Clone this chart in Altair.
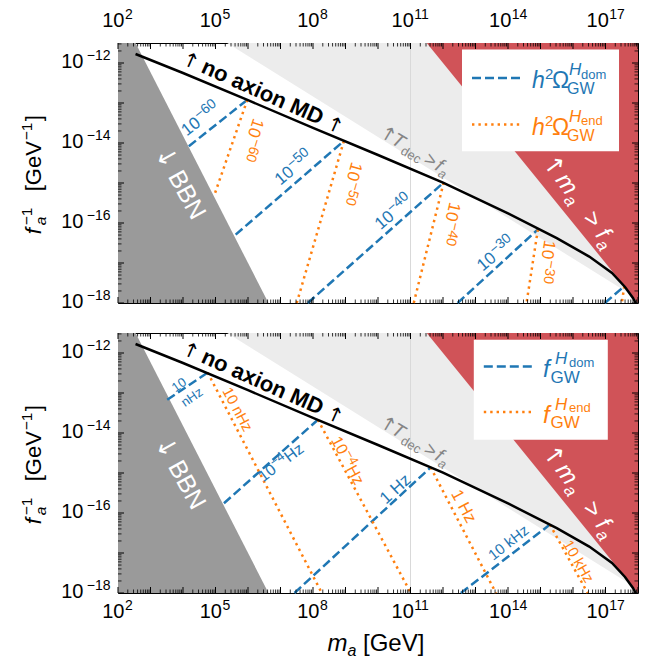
import altair as alt
import pandas as pd

FONT = "Liberation Sans"
AFONT = "DejaVu Sans"
PW, PH = 520, 260
BLUE, ORANGE = "#1f77b4", "#ff7f0e"
RED, DARK, LIGHT, GRIDC = "#d05358", "#9a9a9a", "#ececec", "#d9d9d9"

# ---------------- axes (log10 exponents) ----------------
X_DECADES = list(range(2, 19))
Y_DECADES = list(range(-18, -11))
MINOR_SUBS = [2, 3, 4, 5, 6, 7, 8, 9]
X_LABEL_EXP = [2, 5, 8, 11, 14, 17]
X_LABEL_TXT = ["2", "5", "8", "11", "14", "17"]
Y_LABEL_EXP = [-18, -16, -14, -12]
Y_LABEL_TXT = ["\u221218", "\u221216", "\u221214", "\u221212"]
X_MIN, X_MAX = 2.0, 18.0
Y_MIN, Y_MAX = -18.0, -11.5

# ---------------- shaded regions: log10 m_a , log10 f_a^-1 ----------------
BBN_LOGM = [2.0, 2.54, 6.63]
BBN_LOGF = [-11.5, -11.5, -18.0]
TDEC_LOGM = [5.36, 18.0]
TDEC_LOGF = [-11.5, -17.9]
MAF_LOGM = [11.5, 18.0]
MAF_LOGF = [-11.5, -18.0]
GRID_LOGM = [11.0]

# "no axion MD" boundary
MD_LOGM = [2.54, 4.0, 6.0, 8.0, 10.0, 12.0, 14.0, 15.5, 16.5, 17.2, 17.6, 17.85, 17.93]
MD_LOGF = [-11.775, -12.25, -12.93, -13.62, -14.30, -14.99, -15.76, -16.38, -16.84, -17.25, -17.6, -17.88, -18.0]

# ---------------- top panel: h^2 Omega_GW contours ----------------
OM_DOM_START_LOGM = [4.18, 5.62, 7.84, 12.45, 16.98]
OM_DOM_START_LOGF = [-14.08, -16.29, -18.0, -18.0, -18.0]
OM_KNEE_LOGM = [5.98, 8.95, 12.02, 14.92, 17.58]
OM_KNEE_LOGF = [-12.92, -13.95, -14.99, -16.16, -17.58]
OM_END_STOP_LOGM = [4.97, 7.5, 11.1, 14.57, 17.5]
OM_END_STOP_LOGF = [-15.29, -18.0, -18.0, -18.0, -18.0]

OM_EXP_TXT = ["\u221260", "\u221250", "\u221240", "\u221230"]
OM_DOM_LBL_LOGM = [4.54, 7.40, 10.48, 13.63]
OM_DOM_LBL_LOGF = [-13.41, -14.63, -15.74, -16.78]
OM_DOM_LBL_ANG = [322, 320, 319, 320]
OM_END_LBL_LOGM = [6.11, 9.16, 12.21, 15.17]
OM_END_LBL_LOGF = [-13.91, -15.0, -16.01, -16.96]
OM_END_LBL_ANG = [108, 106, 103, 99]

# ---------------- bottom panel: f_GW contours ----------------
FR_DOM_START_LOGM = [3.515, 5.26, 7.43, 12.55]
FR_DOM_START_LOGF = [-13.17, -15.755, -18.0, -18.0]
FR_KNEE_LOGM = [4.76, 8.15, 11.62, 15.29]
FR_KNEE_LOGF = [-12.49, -13.67, -14.86, -16.29]
FR_END_STOP_LOGM = [8.27, 11.01, 13.63, 16.45]
FR_END_STOP_LOGF = [-18.0, -18.0, -18.0, -18.0]

# annotation anchors (log10 m_a, log10 f_a^-1, angle) at the first arrow
NOAXION_POS = (4.157, -12.095, 24)
BBN_POS = (3.268, -14.46, 61)
TDEC_POS = (10.22, -13.92, 31)
MAF_POS = (15.22, -14.69, 54)

XS = alt.Scale(type="log", domain=[10 ** X_MIN, 10 ** X_MAX], nice=False)
YS = alt.Scale(type="log", domain=[10 ** Y_MIN, 10 ** Y_MAX], nice=False)
ONE = pd.DataFrame({"k": [0]})


def X():
    return alt.X("m:Q", scale=XS, axis=None)


def Y():
    return alt.Y("f:Q", scale=YS, axis=None)


def xy(lm, lf):
    return pd.DataFrame({"m": [10.0 ** v for v in lm], "f": [10.0 ** v for v in lf]})


def area(lm, lf, base, color):
    d = xy(lm, lf)
    d["f2"] = 10.0 ** base
    return alt.Chart(d).mark_area(color=color, opacity=1).encode(X(), Y(), y2="f2:Q")


def segs(m0, f0, m1, f1, color, dash, width):
    rows = []
    for i in range(len(m0)):
        rows.append({"id": i, "o": 0, "m": 10.0 ** m0[i], "f": 10.0 ** f0[i]})
        rows.append({"id": i, "o": 1, "m": 10.0 ** m1[i], "f": 10.0 ** f1[i]})
    return alt.Chart(pd.DataFrame(rows)).mark_line(
        color=color, strokeDash=dash, strokeWidth=width).encode(
        X(), Y(), detail="id:N", order="o:Q")


def _kw(text, size, color, align, baseline, style, weight, angle, dx, dy, font):
    kw = dict(text=text, fontSize=size, color=color, align=align,
              baseline=baseline, font=font)
    if style:
        kw["fontStyle"] = style
    if weight:
        kw["fontWeight"] = weight
    if angle:
        kw["angle"] = angle
    if dx:
        kw["dx"] = dx
    if dy:
        kw["dy"] = dy
    return kw


def dtxt(lm, lf, text, size, color, angle=0, dx=0, dy=0, align="center",
         baseline="middle", style=None, weight=None, font=FONT):
    kw = _kw(text, size, color, align, baseline, style, weight, angle, dx, dy, font)
    return alt.Chart(xy([lm], [lf])).mark_text(**kw).encode(X(), Y())


def ptxt(x, y, text, size, color="black", align="left", baseline="alphabetic",
         style=None, weight=None, angle=0, dx=0, dy=0, font=FONT):
    kw = _kw(text, size, color, align, baseline, style, weight, angle, dx, dy, font)
    return alt.Chart(ONE).mark_text(**kw).encode(x=alt.value(x), y=alt.value(y))


def prule(x, x2, y, y2, color, width, dash=None):
    kw = dict(color=color, strokeWidth=width)
    if dash:
        kw["strokeDash"] = dash
    return alt.Chart(ONE).mark_rule(**kw).encode(
        x=alt.value(x), x2=alt.value(x2), y=alt.value(y), y2=alt.value(y2))


DASH = [9, 4]
DOT = [2.4, 4]
LW = 2.5


def background():
    L = []
    L.append(area(TDEC_LOGM, TDEC_LOGF, Y_MAX, LIGHT))
    L.append(alt.Chart(pd.DataFrame({"m": [10.0 ** v for v in GRID_LOGM]})).mark_rule(
        color=GRIDC, strokeWidth=1).encode(X()))
    L.append(area(MAF_LOGM, MAF_LOGF, Y_MAX, RED))
    L.append(area(BBN_LOGM, BBN_LOGF, Y_MIN, DARK))
    return L


def pieces(pos, items, color):
    lm, lf, a = pos
    out = []
    for t, dx, dy, s, st, wt, fnt, al in items:
        out.append(dtxt(lm, lf, t, s, color, angle=a, dx=dx, dy=dy, align=al,
                        baseline="alphabetic", style=st, weight=wt, font=fnt))
    return out


def foreground_common():
    L = []
    L.append(alt.Chart(xy(MD_LOGM, MD_LOGF)).mark_line(color="black", strokeWidth=2.5).encode(X(), Y()))
    L += pieces(NOAXION_POS, [
        ("\u2191", 0, 0, 20, None, None, AFONT, "center"),
        ("no axion MD", 13, 0, 22, None, "bold", FONT, "left"),
        ("\u2191", 158, 0, 20, None, None, AFONT, "center")], "black")
    L += pieces(BBN_POS, [
        ("\u2193", 0, 0, 25, None, None, AFONT, "center"),
        ("BBN", 17, 0, 25, None, None, FONT, "left")], "white")
    L += pieces(TDEC_POS, [
        ("\u2191", 0, 0, 19, None, None, AFONT, "center"),
        ("T", 6, 0, 19, "italic", None, FONT, "left"),
        ("dec", 19.5, 4, 13, None, None, FONT, "left"),
        (">", 44, 0, 19, None, None, FONT, "left"),
        ("f", 57, 0, 19, "italic", None, FONT, "left"),
        ("a", 63, 4, 13, "italic", None, FONT, "left")], "#858585")
    L += pieces(MAF_POS, [
        ("\u2191", 0, 0, 24, None, None, AFONT, "center"),
        ("m", 12, 0, 24, "italic", None, FONT, "left"),
        ("a", 33, 5, 17, "italic", None, FONT, "left"),
        (">", 59, 0, 24, None, None, FONT, "left"),
        ("f", 80, 0, 24, "italic", None, FONT, "left"),
        ("a", 88, 5, 17, "italic", None, FONT, "left")], "white")
    return L


def ticks(top_labels):
    L = []
    maj_x = pd.DataFrame({"m": [10.0 ** e for e in X_DECADES]})
    min_x = pd.DataFrame({"m": [s * 10.0 ** e for e in X_DECADES[:-1] for s in MINOR_SUBS]})
    maj_y = pd.DataFrame({"f": [10.0 ** e for e in Y_DECADES]})
    min_y = pd.DataFrame({"f": [v for v in (s * 10.0 ** e for e in Y_DECADES for s in MINOR_SUBS)
                                if v <= 10 ** Y_MAX]})
    for d, ln, w in [(maj_x, 6, 1.0), (min_x, 3.5, 0.8)]:
        L.append(alt.Chart(d).mark_rule(color="black", strokeWidth=w).encode(
            X(), y=alt.value(PH), y2=alt.value(PH - ln)))
        L.append(alt.Chart(d).mark_rule(color="black", strokeWidth=w).encode(
            X(), y=alt.value(0), y2=alt.value(ln)))
    for d, ln, w in [(maj_y, 6, 1.0), (min_y, 3.5, 0.8)]:
        L.append(alt.Chart(d).mark_rule(color="black", strokeWidth=w).encode(
            Y(), x=alt.value(0), x2=alt.value(ln)))
        L.append(alt.Chart(d).mark_rule(color="black", strokeWidth=w).encode(
            Y(), x=alt.value(PW), x2=alt.value(PW - ln)))
    # x tick labels
    yb = -22.5 if top_labels else PH + 19.3
    ye = -28.5 if top_labels else PH + 13.3
    for nd, dxx in [(1, 6.5), (2, 3.3)]:
        sel = [i for i, t in enumerate(X_LABEL_TXT) if len(t) == nd]
        d = pd.DataFrame({"m": [10.0 ** X_LABEL_EXP[i] for i in sel],
                          "e": [X_LABEL_TXT[i] for i in sel]})
        L.append(alt.Chart(d).mark_text(text="10", fontSize=20, align="right", baseline="middle",
                                        dx=dxx, font=FONT, color="black").encode(X(), y=alt.value(yb)))
        L.append(alt.Chart(d).mark_text(fontSize=14, align="left", baseline="middle",
                                        dx=dxx + 0.5, font=FONT, color="black").encode(
            X(), y=alt.value(ye), text="e:N"))
    # y tick labels
    d = pd.DataFrame({"f": [10.0 ** e for e in Y_LABEL_EXP], "e": Y_LABEL_TXT})
    L.append(alt.Chart(d).mark_text(text="10", fontSize=20, align="right", baseline="middle",
                                    dy=-1, font=FONT, color="black").encode(Y(), x=alt.value(-34.5)))
    L.append(alt.Chart(d).mark_text(fontSize=14, align="right", baseline="middle",
                                    dy=-7, font=FONT, color="black").encode(
        Y(), x=alt.value(-7.5), text="e:N"))
    # y title pieces (rotated)
    x0, y0 = -77.5, 191.3
    for t, dx, dy, s, st in [("f", 0, 0, 22, "italic"), ("a", 9, 5, 15.5, "italic"),
                             ("\u22121", 9, -9, 15.5, None), ("[GeV", 43, 0, 22, None),
                             ("\u22121", 94, -9, 15.5, None), ("]", 113, 0, 22, None)]:
        L.append(ptxt(x0, y0, t, s, angle=270, dx=dx, dy=dy, style=st))
    return L


def top_panel():
    L = background()
    L.append(segs(OM_DOM_START_LOGM, OM_DOM_START_LOGF, OM_KNEE_LOGM, OM_KNEE_LOGF, BLUE, DASH, LW))
    L.append(segs(OM_KNEE_LOGM, OM_KNEE_LOGF, OM_END_STOP_LOGM, OM_END_STOP_LOGF, ORANGE, DOT, LW))
    L += foreground_common()
    for i in range(len(OM_EXP_TXT)):
        for (lm, lf, a, c) in [(OM_DOM_LBL_LOGM[i], OM_DOM_LBL_LOGF[i], OM_DOM_LBL_ANG[i], BLUE),
                               (OM_END_LBL_LOGM[i], OM_END_LBL_LOGF[i], OM_END_LBL_ANG[i], ORANGE)]:
            L.append(dtxt(lm, lf, "10", 17, c, angle=a, dx=-21.3, align="left"))
            L.append(dtxt(lm, lf, OM_EXP_TXT[i], 14, c, angle=a, dx=-1.9, dy=-5, align="left"))
    # legend
    L.append(alt.Chart(ONE).mark_rect(color="white").encode(
        x=alt.value(344), x2=alt.value(501), y=alt.value(6.6), y2=alt.value(108.3)))
    for k, (c, dash, sub) in enumerate([(BLUE, DASH, "dom"), (ORANGE, DOT, "end")]):
        o = 46.6 * k
        L.append(prule(354, 402.5, 35 + o, 35 + o, c, LW, dash))
        L.append(ptxt(414, 45 + o, "h", 23, c, style="italic"))
        L.append(ptxt(427, 36 + o, "2", 15, c))
        L.append(ptxt(434, 45 + o, "\u03a9", 23, c))
        L.append(ptxt(449, 51 + o, "GW", 16, c))
        L.append(ptxt(451, 32 + o, "H", 17, c, style="italic"))
        L.append(ptxt(463, 35.5 + o, sub, 13, c))
    L += ticks(True)
    # layout anchor (keeps plot origin in place)
    L.append(alt.Chart(ONE).mark_rule(strokeOpacity=0, strokeWidth=0.1).encode(
        x=alt.value(-117.5), x2=alt.value(-117.4), y=alt.value(-41.7), y2=alt.value(-41.6)))
    return alt.layer(*L).properties(width=PW, height=PH)


def bottom_panel():
    L = background()
    L.append(segs(FR_DOM_START_LOGM, FR_DOM_START_LOGF, FR_KNEE_LOGM, FR_KNEE_LOGF, BLUE, DASH, LW))
    L.append(segs(FR_KNEE_LOGM, FR_KNEE_LOGF, FR_END_STOP_LOGM, FR_END_STOP_LOGF, ORANGE, DOT, LW))
    L += foreground_common()
    # contour labels
    L.append(dtxt(3.88, -12.80, "10", 13, BLUE, angle=325))
    L.append(dtxt(4.28, -13.11, "nHz", 13, BLUE, angle=325))
    for (lm, lf, a, c) in [(7.07, -14.71, 323, BLUE), (9.09, -14.74, 62, ORANGE)]:
        L.append(dtxt(lm, lf, "10", 16, c, angle=a, dx=-28.3, align="left"))
        L.append(dtxt(lm, lf, "\u22124", 13, c, angle=a, dx=-10.5, dy=-5, align="left"))
        L.append(dtxt(lm, lf, " Hz", 16, c, angle=a, dx=4.3, align="left"))
    L.append(dtxt(10.54, -15.41, "1 Hz", 17, BLUE, angle=318))
    L.append(dtxt(14.015, -16.74, "10 kHz", 15, BLUE, angle=322))
    L.append(dtxt(5.68, -13.41, "10 nHz", 15, ORANGE, angle=62))
    L.append(dtxt(12.63, -15.84, "1 Hz", 17, ORANGE, angle=62))
    L.append(dtxt(16.17, -17.21, "10 kHz", 15, ORANGE, angle=60))
    # legend
    L.append(alt.Chart(ONE).mark_rect(color="white").encode(
        x=alt.value(355.8), x2=alt.value(489.8), y=alt.value(6.8), y2=alt.value(106.8)))
    for k, (c, dash, sub) in enumerate([(BLUE, DASH, "dom"), (ORANGE, DOT, "end")]):
        o = 45.5 * k
        L.append(prule(365.8, 414.2, 33.5 + o, 33.5 + o, c, LW, dash))
        L.append(ptxt(425, 44 + o, "f", 24, c, style="italic"))
        L.append(ptxt(432.5, 49.5 + o, "GW", 17, c))
        L.append(ptxt(437, 31 + o, "H", 17, c, style="italic"))
        L.append(ptxt(451, 33.5 + o, sub, 13, c))
    L += ticks(False)
    # x title
    L.append(ptxt(209.5, PH + 57.5, "m", 24, style="italic"))
    L.append(ptxt(229.5, PH + 62.5, "a", 16, style="italic"))
    L.append(ptxt(245, PH + 57.5, "[GeV]", 24))
    return alt.layer(*L).properties(width=PW, height=PH)


chart = alt.vconcat(top_panel(), bottom_panel(), spacing=30, bounds="flush").properties(
    padding=0).configure_view(stroke="black", strokeWidth=1)

chart.save("out.html", embed_options={"renderer": "svg", "actions": False})
